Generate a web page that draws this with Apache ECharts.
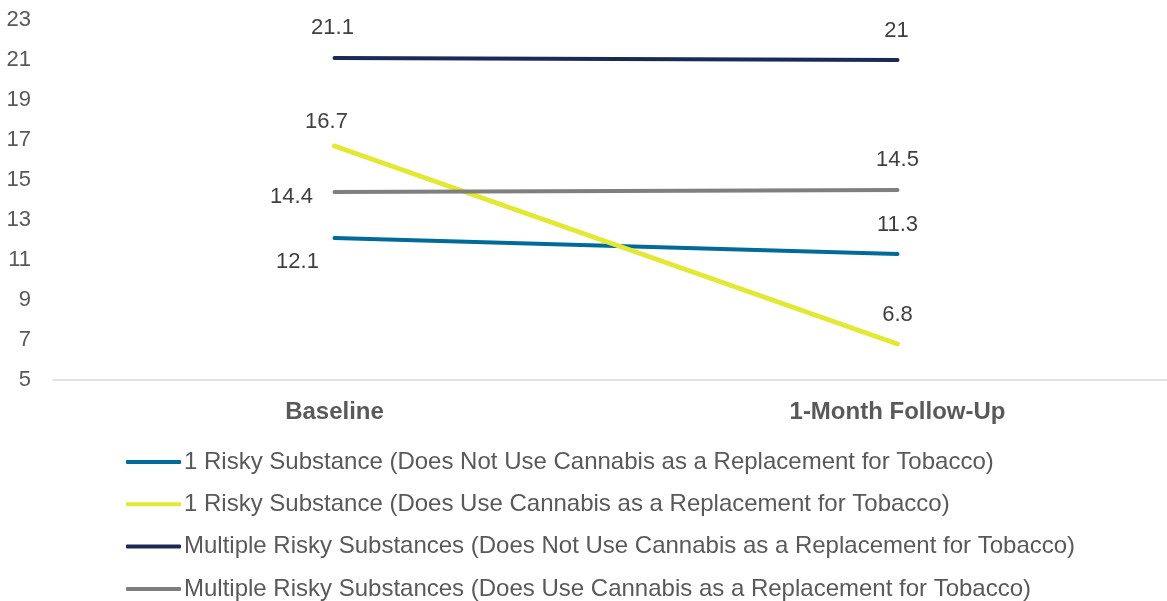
<!DOCTYPE html>
<html>
<head>
<meta charset="utf-8">
<script src="https://cdn.jsdelivr.net/npm/echarts@6/dist/echarts.min.js"></script>
<style>
  html, body { margin: 0; padding: 0; background: #ffffff; overflow: hidden; }
  #wrap { width: 1167px; height: 601px; overflow: hidden; position: relative; }
  /* canvas is a little wider/taller than the view so the plot area can run past the right edge */
  #chart { width: 1180px; height: 640px; }
</style>
</head>
<body>
<div id="wrap"><div id="chart"></div></div>
<script>
// Time points on the x axis
const categories = ['Baseline', '1-Month Follow-Up'];

// Series names (legend order)
const seriesNames = [
  '1 Risky Substance (Does Not Use Cannabis as a Replacement for Tobacco)',
  '1 Risky Substance (Does Use Cannabis as a Replacement for Tobacco)',
  'Multiple Risky Substances (Does Not Use Cannabis as a Replacement for Tobacco)',
  'Multiple Risky Substances (Does Use Cannabis as a Replacement for Tobacco)'
];

// Values per series, one per time point
const oneNotReplace = [12.1, 11.3];
const oneReplace = [16.7, 6.8];
const multiNotReplace = [21.1, 21.0];
const multiReplace = [14.4, 14.5];

// Y axis range and step
const yMin = 5;
const yMax = 23;
const yStep = 2;

// Styling per series: colour, line width and label offsets (dx, dy from the point) per time point
const seriesStyles = [
  { color: '#006A9A', width: 4, offsets: [[-37, 24], [0, -29]] },
  { color: '#E3E833', width: 5, offsets: [[-8, -24], [0, -29]] },
  { color: '#1A2A56', width: 4, offsets: [[-2, -30], [-1, -29]] },
  { color: '#7F7F7F', width: 4, offsets: [[-43, 5], [0, -30]] }
];

const seriesValues = [oneNotReplace, oneReplace, multiNotReplace, multiReplace];

const FONT = '"Liberation Sans", Arial, sans-serif';

const series = seriesValues.map((vals, i) => {
  const st = seriesStyles[i];
  return {
    name: seriesNames[i],
    type: 'line',
    data: vals.map((v, j) => ({
      value: v,
      label: { offset: st.offsets[j] }
    })),
    symbol: 'circle',
    symbolSize: 1,
    showSymbol: true,
    itemStyle: { color: st.color },
    lineStyle: { color: st.color, width: st.width, cap: 'round' },
    label: {
      show: true,
      position: 'inside',
      color: '#404040',
      fontSize: 22,
      fontFamily: FONT,
      formatter: p => String(p.value)
    },
    emphasis: { disabled: true },
    animation: false,
    z: 2
  };
});

const chart = echarts.init(document.getElementById('chart'), null, { renderer: 'canvas' });
chart.setOption({
  backgroundColor: '#ffffff',
  animation: false,
  color: seriesStyles.map(s => s.color),
  grid: { left: 53, top: 20, width: 1126, height: 360, containLabel: false },
  xAxis: {
    type: 'category',
    data: categories,
    boundaryGap: true,
    axisLine: { show: true, lineStyle: { color: '#D9D9D9', width: 1.5 } },
    axisTick: { show: false },
    axisLabel: {
      color: '#595959',
      fontSize: 24,
      fontWeight: 'bold',
      fontFamily: FONT,
      margin: 20
    },
    splitLine: { show: false }
  },
  yAxis: {
    type: 'value',
    min: yMin,
    max: yMax,
    interval: yStep,
    axisLine: { show: false },
    axisTick: { show: false },
    splitLine: { show: false },
    axisLabel: {
      color: '#595959',
      fontSize: 22,
      fontFamily: FONT,
      margin: 22,
      padding: [4, 0, 0, 0]
    }
  },
  legend: {
    orient: 'vertical',
    left: 121,
    top: 445,
    itemGap: 18.3,
    itemWidth: 55,
    itemHeight: 4,
    icon: 'roundRect',
    selectedMode: false,
    textStyle: {
      color: '#595959',
      fontSize: 24,
      fontFamily: FONT,
      padding: [0, 0, 0, -2]
    },
    data: seriesNames
  },
  series: series
});
</script>
</body>
</html>
